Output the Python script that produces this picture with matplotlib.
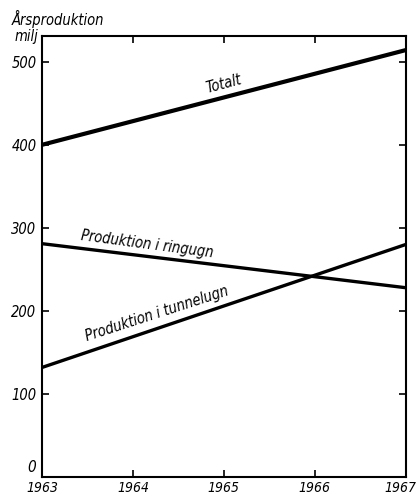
import matplotlib.pyplot as plt

years = [1963, 1967]
totalt = [400, 514]
ringugn = [281, 228]
tunnelugn = [132, 280]
yticks = [100, 200, 300, 400, 500]
xticks = [1963, 1964, 1965, 1966, 1967]

plt.rcParams['font.family'] = ['DejaVu Sans']
plt.rcParams['font.stretch'] = 'condensed'
plt.rcParams['font.style'] = 'italic'

fig = plt.figure(figsize=(4.18, 4.97), dpi=100)
ax = fig.add_axes([0.1005, 0.040, 0.870, 0.8876])

ax.plot(years, totalt, color='black', lw=3.0, solid_capstyle='butt')
ax.plot(years, ringugn, color='black', lw=2.4, solid_capstyle='butt')
ax.plot(years, tunnelugn, color='black', lw=2.4, solid_capstyle='butt')

ax.set_xlim(1963, 1967)
ax.set_ylim(0, 531)

ax.set_yticks(yticks)
ax.set_xticks(xticks[1:-1])
ax.set_xticklabels([])
ax.tick_params(direction='in', length=5, width=1.2, top=True, right=True,
               labelsize=10.5, pad=4)
for s in ax.spines.values():
    s.set_linewidth(1.5)

for x in xticks[:-1]:
    ax.text(x, -5, str(x), ha='center', va='top', fontsize=10)
fig.text(0.996, 0.004, str(xticks[-1]), ha='right', va='bottom', fontsize=10)
ax.text(-0.015, 0.005, '0', transform=ax.transAxes, ha='right', va='bottom', fontsize=11)

ax.text(1965.0, 473, 'Totalt', rotation=15, ha='center', va='center', fontsize=10.5)
ax.text(1964.16, 280, 'Produktion i ringugn', rotation=-7.5, ha='center', va='center', fontsize=10.5)
ax.text(1964.26, 197, 'Produktion i tunnelugn', rotation=18, ha='center', va='center', fontsize=10.5)

fig.text(0.028, 0.962, 'Årsproduktion', ha='left', va='center', fontsize=10.5)
fig.text(0.092, 0.926, 'milj', ha='right', va='center', fontsize=10.5)

fig.savefig('out.png', dpi=100)
